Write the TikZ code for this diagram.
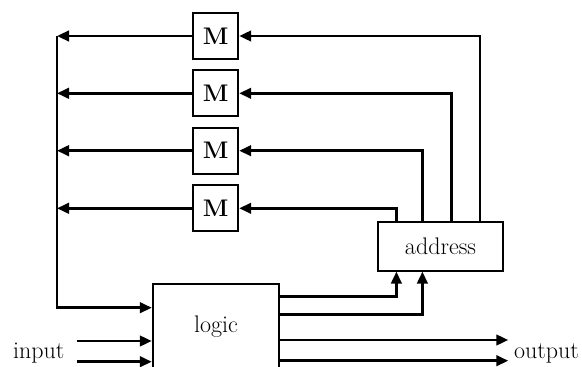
\documentclass[tikz,border=0pt]{standalone}
\usetikzlibrary{arrows.meta,calc}
\begin{document}
\begin{tikzpicture}[x=1pt,y=-1pt,
  wire/.style={line width=2.7pt},
  arr/.style={wire,-{Triangle[length=12pt,width=10.5pt]}},
  box/.style={draw,line width=1.8pt,inner sep=0pt},
  mbox/.style={box,minimum width=45pt,minimum height=46pt,font=\fontsize{24}{28}\selectfont\bfseries},
  every node/.style={font=\fontsize{24}{28}\selectfont}]
\useasboundingbox (0,0) rectangle (582,367);
\clip (0,0) rectangle (582,367);
% memory boxes
\node[mbox] (M1) at (215.8,36) {M};
\node[mbox] (M2) at (215.8,93.3) {M};
\node[mbox] (M3) at (215.8,150.7) {M};
\node[mbox] (M4) at (215.8,208.3) {M};
% logic and address
\node[box,minimum width=126.6pt,minimum height=85.4pt] (logic) at (216,326.7) {logic};
\node[box,minimum width=125.6pt,minimum height=49pt] (addr) at (440.5,246.2) {address};
% labels
\node[anchor=base] (input) at (38.8,358) {input};
\node[anchor=base] (output) at (546.5,358) {output};
% bus
\coordinate (bt) at (57,36);
\coordinate (bb) at (57,307.7);
\draw[arr] (bt) |- (bb -| logic.west);
\foreach \m in {M1,M2,M3,M4}{
  \draw[arr] (\m.west) -- (\m.west -| bt);
}
% address to memories
\draw[arr] ($(addr.north west)+(103.3,0)$) |- (M1.east);
\draw[arr] ($(addr.north west)+(75,0)$) |- (M2.east);
\draw[arr] ($(addr.north west)+(45.6,0)$) |- (M3.east);
\draw[arr] ($(addr.north west)+(19.6,0)$) |- (M4.east);
% logic to address
\draw[arr] ($(logic.north east)+(0,13.3)$) -| ($(addr.south west)+(19.6,0)$);
\draw[arr] ($(logic.north east)+(0,31.7)$) -| ($(addr.south west)+(45.6,0)$);
% inputs
\coordinate (i1) at (76.7,341);
\coordinate (i2) at (76.7,361.7);
\draw[arr] (i1) -- (i1 -| logic.west);
\draw[arr] (i2) -- (i2 -| logic.west);
% outputs
\coordinate (o1) at (508.3,340);
\coordinate (o2) at (508.3,360.7);
\draw[arr] (o1 -| logic.east) -- (o1);
\draw[arr] (o2 -| logic.east) -- (o2);
\end{tikzpicture}
\end{document}
